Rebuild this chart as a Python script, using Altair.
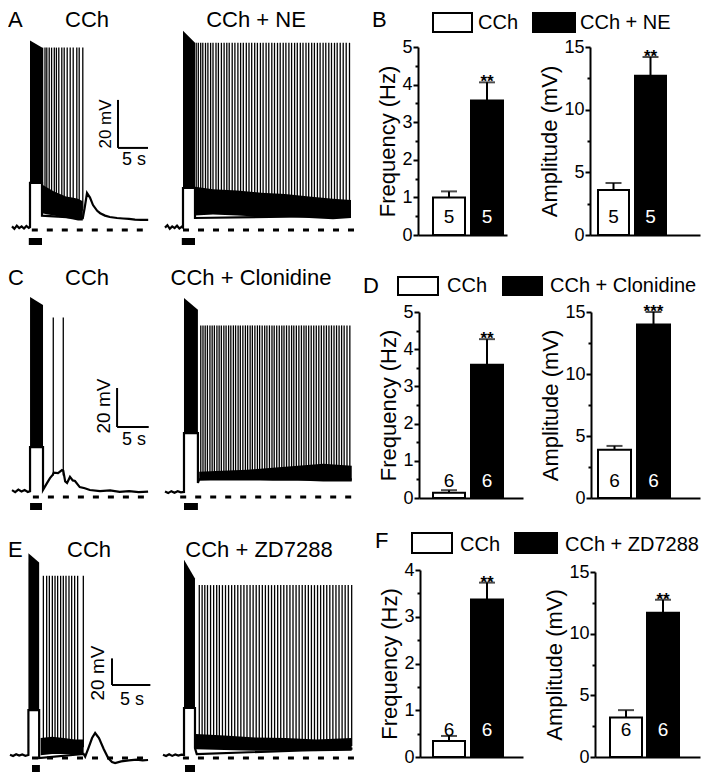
import altair as alt
import pandas as pd

FONT = "Liberation Sans"
M = 8            # page margin: reference pixel -> chart pixel
W, H = 694, 764  # chart size

# ======================= DATA =======================
letters = ["A", "B", "C", "D", "E", "F"]
titles_A = ["CCh", "CCh + NE"]
titles_C = ["CCh", "CCh + Clonidine"]
titles_E = ["CCh", "CCh + ZD7288"]
scale_labels = ["20 mV", "5 s"]
scale_sizes = [20, 5]          # mV, s

# ---- traces: time (s) vs membrane potential (mV above the dashed resting line)
# Row A, CCh
A1_line_t = [0, 0.4, 0.8, 1.2, 1.6, 2.0, 2.4, 2.8, 3.0, 3.0, 5.0, 5.0, 11.8, 12.1, 12.5, 13.0, 13.5, 14.2, 14.7, 15.5, 16.3, 17.5, 18.5, 19.5, 20.5, 21.5, 22.7]
A1_line_v = [1.5, 0.5, 1.8, 0.8, 1.5, 0.6, 1.7, 0.9, 1.2, 19.6, 19.6, 6.0, 5.0, 9.0, 15.4, 13.5, 10.4, 8.0, 7.0, 6.0, 5.4, 5.0, 4.8, 4.6, 4.3, 4.2, 4.2]
A1_block_t = [3.0, 5.0]
A1_block_top = [79, 76]
A1_block_bot = [19.6, 19.6]
A1_band_t = [5.0, 6.0, 7.0, 8.0, 9.0, 10.0, 11.0, 11.8]
A1_band_hi = [19.0, 17.5, 16.0, 15.0, 14.0, 13.5, 13.0, 12.0]
A1_band_lo = [7.0, 6.5, 6.0, 5.5, 5.0, 4.5, 4.0, 4.0]
A1_spike_t = [5.1, 5.5, 5.8, 6.2, 6.6, 7.05, 7.4, 7.8, 8.3, 8.7, 9.2, 9.7, 10.2, 10.8, 11.2, 11.8]
A1_peak, A1_base = 76, 8
A1_dash = [3.3, 23.0]
A1_stim = [2.8, 5.0]

# Row A, CCh + NE
A2_line_t = [0, 0.4, 0.8, 1.2, 1.6, 2.0, 2.4, 2.8, 3.0, 3.0, 5.0, 5.0, 31.0]
A2_line_v = [1.0, 2.0, 0.5, 1.5, 0.8, 1.8, 0.6, 1.4, 1.0, 17.5, 17.5, 5.0, 6.0]
A2_block_t = [3.0, 5.0]
A2_block_top = [83, 78]
A2_block_bot = [17.5, 17.5]
A2_band_t = [5.0, 8.0, 12.0, 16.0, 20.0, 24.0, 28.0, 31.0]
A2_band_hi = [18.0, 17.0, 16.5, 15.5, 15.0, 14.0, 13.0, 12.5]
A2_band_lo = [6.0, 6.5, 6.0, 5.5, 5.5, 5.0, 4.5, 5.0]
A2_spike_t = [5.2, 5.55, 5.95, 6.3, 6.75, 7.15, 7.6, 8.0, 8.5, 8.9, 9.4, 9.85, 10.3, 10.7, 11.2, 11.65,
              12.15, 12.6, 13.05, 13.55, 14.0, 14.45, 14.95, 15.4, 15.9, 16.35, 16.85, 17.3, 17.8, 18.25,
              18.75, 19.2, 19.7, 20.15, 20.65, 21.1, 21.6, 22.05, 22.55, 23.0, 23.5, 23.95, 24.45, 24.9,
              25.4, 25.85, 26.35, 26.8, 27.3, 27.75, 28.25, 28.7, 29.2, 29.7, 30.2, 30.75]
A2_peak, A2_base = 78, 10
A2_dash = [3.0, 31.7]
A2_stim = [2.8, 5.0]

# Row C, CCh
C1_line_t = [0, 0.5, 1.0, 1.5, 2.0, 2.5, 2.85, 2.85, 4.9, 4.9, 5.5, 6.0, 6.45, 6.6, 7.27, 7.9, 8.1, 8.4, 8.7,
             9.16, 9.6, 9.95, 10.7, 11.5, 12.3, 13.9, 15.5, 17.0, 18.5, 20.0, 21.5]
C1_line_v = [3.5, 2.5, 3.8, 2.8, 3.6, 2.6, 3.0, 25.6, 25.6, 3.6, 7.0, 9.7, 11.5, 12.5, 12.3, 13.8, 13.5, 8.0, 7.2,
             10.3, 8.5, 8.2, 5.1, 4.5, 3.6, 3.0, 3.4, 2.6, 3.0, 2.5, 2.8]
C1_block_t = [2.85, 4.9]
C1_block_top = [102.6, 98.5]
C1_block_bot = [25.6, 25.6]
C1_spike_t = [6.52, 8.1]
C1_peak, C1_base = 92, 11
C1_dash = [3.3, 21.5]
C1_stim = [2.85, 4.74]

# Row C, CCh + Clonidine
C2_line_t = [0, 0.5, 1.0, 1.5, 2.0, 2.5, 3.0, 3.0, 5.2, 5.2, 5.4, 29.5]
C2_line_v = [2.8, 2.0, 3.0, 2.2, 3.0, 2.4, 2.6, 32.8, 32.8, 7.2, 9.0, 9.0]
C2_block_t = [3.0, 5.2]
C2_block_top = [102, 96]
C2_block_bot = [32.8, 32.8]
C2_band_t = [5.4, 9.0, 13.0, 17.0, 21.0, 25.0, 29.5]
C2_band_hi = [13.0, 13.5, 14.0, 15.0, 16.0, 17.0, 16.0]
C2_band_lo = [8.5, 9.0, 9.0, 8.5, 8.5, 8.0, 8.0]
C2_spike_t = [5.65, 6.0, 6.35, 6.7, 7.1, 7.45, 7.8, 8.2, 8.55, 8.9, 9.3, 9.65, 10.05, 10.4, 10.8, 11.15,
              11.55, 11.9, 12.3, 12.7, 13.05, 13.45, 13.8, 14.2, 14.6, 14.95, 15.35, 15.75, 16.1, 16.5,
              16.9, 17.25, 17.65, 18.05, 18.45, 18.8, 19.2, 19.6, 20.0, 20.35, 20.75, 21.15, 21.55, 21.95,
              22.3, 22.7, 23.1, 23.5, 23.9, 24.3, 24.7, 25.1, 25.5, 25.9, 26.3, 26.7, 27.1, 27.5, 27.9,
              28.3, 28.75, 29.2]
C2_peak, C2_base = 88, 11
C2_dash = [2.4, 30.0]
C2_stim = [3.0, 5.2]

# Row E, CCh
E1_line_t = [0, 0.4, 0.8, 1.2, 1.6, 2.0, 2.4, 2.4, 3.8, 3.8, 9.6, 9.8, 10.2, 10.7, 11.1, 11.6, 12.2, 12.8,
             13.3, 13.7, 14.5, 15.5, 16.5, 17.3, 18.0]
E1_line_v = [2.5, 1.5, 2.8, 1.8, 2.6, 1.7, 2.3, 36.0, 36.0, 0.0, 3.0, 1.0, 7.0, 15.0, 18.8, 15.0, 7.0, 0.0,
             -3.0, -3.8, -2.5, -1.8, -1.3, -1.8, -1.5]
E1_block_t = [2.4, 3.8]
E1_block_top = [154, 147]
E1_block_bot = [36, 36]
E1_band_t = [4.0, 5.5, 7.0, 8.5, 9.6]
E1_band_hi = [15.0, 16.0, 15.0, 14.0, 14.0]
E1_band_lo = [2.0, 3.0, 3.0, 3.0, 3.0]
E1_spike_t = [4.35, 4.78, 5.13, 5.52, 5.87, 6.21, 6.6, 6.95, 7.3, 7.69, 8.04, 8.43, 8.82, 9.56]
E1_peak, E1_base = 137, 8
E1_dash = [2.87, 18.0]
E1_stim = [2.87, 3.9]

# Row E, CCh + ZD7288
E2_line_t = [0, 0.4, 0.8, 1.2, 1.6, 2.0, 2.4, 2.74, 2.74, 4.17, 4.17, 4.4, 24.7]
E2_line_v = [2.5, 1.5, 2.8, 1.6, 2.7, 1.8, 2.5, 2.3, 37.6, 37.6, 7.5, 3.0, 7.0]
E2_block_t = [2.74, 4.17]
E2_block_top = [149, 135]
E2_block_bot = [37.6, 37.6]
E2_band_t = [4.3, 8.0, 12.0, 16.0, 20.0, 24.6]
E2_band_hi = [18.0, 17.0, 15.5, 15.0, 14.0, 15.0]
E2_band_lo = [6.5, 6.0, 5.5, 5.5, 5.0, 5.5]
E2_spike_t = [4.73, 5.1, 5.45, 5.8, 6.2, 6.6, 7.0, 7.35, 7.75, 8.15, 8.55, 8.95, 9.35, 9.75, 10.15, 10.55,
              10.95, 11.35, 11.75, 12.15, 12.55, 12.95, 13.35, 13.75, 14.15, 14.55, 14.95, 15.35, 15.75,
              16.15, 16.55, 16.95, 17.35, 17.75, 18.15, 18.55, 18.95, 19.35, 19.75, 20.15, 20.55, 20.95,
              21.35, 21.75, 22.15, 22.55, 22.95, 23.35, 23.75, 24.15, 24.6]
E2_peak, E2_base = 130, 9
E2_dash = [2.6, 25.0]
E2_stim = [2.87, 4.17]

# ---- bar charts (mean, SEM, n, significance)
freq_title = "Frequency (Hz)"
amp_title = "Amplitude (mV)"
B_freq_mean = [1.0, 3.58];  B_freq_sem = [0.16, 0.48];  B_n = [5, 5]; B_freq_sig = "**"
B_amp_mean = [3.6, 12.7];   B_amp_sem = [0.55, 1.5];    B_amp_sig = "**"
D_freq_mean = [0.14, 3.58]; D_freq_sem = [0.07, 0.69];  D_n = [6, 6]; D_freq_sig = "**"
D_amp_mean = [3.9, 14.0];   D_amp_sem = [0.3, 1.0];     D_amp_sig = "***"
F_freq_mean = [0.34, 3.37]; F_freq_sem = [0.11, 0.36];  F_n = [6, 6]; F_freq_sig = "**"
F_amp_mean = [3.2, 11.7];   F_amp_sem = [0.6, 1.05];    F_amp_sig = "**"

# ======================= LAYOUT (reference pixels) =======================
LAY = {
    "A1": dict(x0=12, yd=230, pps=6.0, ppm=2.4, stim=(238, 245)),
    "A2": dict(x0=165, yd=230, pps=6.0, ppm=2.4, stim=(238, 245)),
    "C1": dict(x0=12, yd=497, pps=6.33, ppm=1.95, stim=(503, 510)),
    "C2": dict(x0=165, yd=497, pps=6.33, ppm=1.95, stim=(503, 510)),
    "E1": dict(x0=10, yd=758, pps=7.67, ppm=1.33, stim=(765, 774)),
    "E2": dict(x0=163, yd=758, pps=7.67, ppm=1.33, stim=(765, 774)),
}
# bar panels: axis x, axis end, first bar left, bar width, gap, y of 0, y of max, max, n-label lift
BLAY = {
    "Bf": (418, 507, 433, 32, 6, 235, 47, 5, 12),
    "Ba": (590, 700, 598, 31, 6, 235, 47, 15, 12),
    "Df": (419, 523, 433, 32, 6, 498, 312, 5, 11),
    "Da": (591, 700, 598, 33, 6, 498, 312, 15, 11),
    "Ff": (420, 523, 433, 32, 6, 757, 570, 4, 21),
    "Fa": (595, 700, 610, 32, 5, 757, 572, 15, 21),
}


def text_mark(label, x, y, size, align="center", baseline="alphabetic", angle=0,
              weight="normal", color="black"):
    df = pd.DataFrame({"label": [label]})
    kw = dict(fontSize=size, font=FONT, align=align, baseline=baseline,
              fontWeight=weight, color=color)
    if angle:
        kw["angle"] = angle
    return alt.Chart(df).mark_text(**kw).encode(
        x=alt.value(x - M), y=alt.value(y - M), text="label:N")


def trace(key, line_t, line_v, block_t, block_top, block_bot, band, spike_t, peak, base,
          dash, stim, scalebar=None):
    lay = LAY[key]
    xs = alt.Scale(domain=[0, 10], range=[lay["x0"] - M, lay["x0"] - M + 10 * lay["pps"]],
                   nice=False, zero=False)
    ys = alt.Scale(domain=[0, 10], range=[lay["yd"] - M, lay["yd"] - M - 10 * lay["ppm"]],
                   nice=False, zero=False)

    def X(f):
        return alt.X(f, type="quantitative", scale=xs, axis=None)

    def Y(f):
        return alt.Y(f, type="quantitative", scale=ys, axis=None)

    layers = []
    dash_df = pd.DataFrame({"t0": [dash[0]], "t1": [dash[1]], "v": [0]})
    layers.append(alt.Chart(dash_df).mark_rule(strokeDash=[6, 9], strokeWidth=3, color="black")
                  .encode(x=X("t0"), x2="t1", y=Y("v")))
    stim_df = pd.DataFrame({"t0": [stim[0]], "t1": [stim[1]]})
    layers.append(alt.Chart(stim_df).mark_rect(color="black")
                  .encode(x=X("t0"), x2="t1", y=alt.value(lay["stim"][0] - M),
                          y2=alt.value(lay["stim"][1] - M)))
    if band is not None:
        band_df = pd.DataFrame({"t": band[0], "lo": band[1], "hi": band[2]})
        layers.append(alt.Chart(band_df).mark_area(color="black")
                      .encode(x=X("t"), y=Y("lo"), y2="hi"))
    block_df = pd.DataFrame({"t": block_t, "top": block_top, "bot": block_bot})
    layers.append(alt.Chart(block_df).mark_area(color="black")
                  .encode(x=X("t"), y=Y("bot"), y2="top"))
    spike_df = pd.DataFrame({"t": spike_t, "base": [base] * len(spike_t),
                             "peak": [peak] * len(spike_t)})
    layers.append(alt.Chart(spike_df).mark_rule(strokeWidth=1.3, color="black")
                  .encode(x=X("t"), y=Y("base"), y2="peak"))
    line_df = pd.DataFrame({"t": line_t, "v": line_v, "i": list(range(len(line_t)))})
    layers.append(alt.Chart(line_df).mark_line(strokeWidth=2.2, color="black")
                  .encode(x=X("t"), y=Y("v"), order="i:Q"))
    if scalebar is not None:
        t_a, v_a = scalebar
        sb = pd.DataFrame({"t": [t_a], "t2": [t_a + scale_sizes[1]],
                           "v": [v_a], "v2": [v_a + scale_sizes[0]]})
        layers.append(alt.Chart(sb).mark_rule(strokeWidth=2, color="black")
                      .encode(x=X("t"), y=Y("v"), y2="v2"))
        layers.append(alt.Chart(sb).mark_rule(strokeWidth=2, color="black")
                      .encode(x=X("t"), x2="t2", y=Y("v")))
    return alt.layer(*layers)


def bars(key, groups, mean, sem, n, sig, title, major, minor):
    ax, end, b1, bw, gap, y0, ytop, ymax, nlift = BLAY[key]
    upper = [round(m + s, 3) for m, s in zip(mean, sem)]
    df = pd.DataFrame({"group": groups, "mean": mean, "upper": upper,
                       "n": [str(k) for k in n], "sig": ["", sig]})
    step = bw + gap
    span = end - ax
    pi = gap / step
    po = (span / step - (2 - pi)) / 2
    al = (b1 - ax) / (span - (2 * bw + gap))
    xs = alt.Scale(domain=groups, range=[ax - M, end - M], paddingInner=pi,
                   paddingOuter=po, align=al)
    ys = alt.Scale(domain=[0, ymax], range=[y0 - M, ytop - M], nice=False)
    ticks = [round(i * minor, 3) for i in range(int(round(ymax / minor)) + 1)]
    test = f"datum.value % {major} == 0"
    yaxis = alt.Axis(orient="left", offset=-(ax - M), values=ticks,
                     labelExpr=f"{test} ? format(datum.value, 'd') : ''",
                     tickSize={"condition": {"test": test, "value": 5}, "value": 3},
                     domainWidth=2, tickWidth=2, domainColor="black", tickColor="black",
                     labelColor="black", labelFont=FONT, labelFontSize=18, labelPadding=1,
                     labelOverlap=False, labelFlush=False, grid=False,
                     title=title, titleFont=FONT, titleFontSize=22, titleFontWeight="normal",
                     titleColor="black", titlePadding=2)
    xaxis = alt.Axis(orient="bottom", offset=(y0 - M) - H, labels=False, ticks=False,
                     title="", domainWidth=2, domainColor="black", grid=False)
    X = alt.X("group:N", scale=xs, axis=xaxis)
    is_first = f"datum.group == '{groups[0]}'"
    base = alt.Chart(df)
    barl = base.mark_bar(stroke="black", strokeWidth=2).encode(
        x=X, y=alt.Y("mean:Q", scale=ys, axis=yaxis),
        fill=alt.condition(is_first, alt.value("white"), alt.value("black")))
    err = base.mark_rule(strokeWidth=2, color="black").encode(
        x=X, y=alt.Y("mean:Q", scale=ys, axis=yaxis), y2="upper")
    cap = base.mark_tick(thickness=2, size=16, color="black").encode(
        x=X, y=alt.Y("upper:Q", scale=ys, axis=yaxis))
    ntext = base.mark_text(font=FONT, fontSize=19, baseline="alphabetic", dy=-nlift).encode(
        x=X, y=alt.datum(0),
        text="n:N",
        color=alt.condition(is_first, alt.value("black"), alt.value("white")))
    stext = base.mark_text(font=FONT, fontSize=17, fontWeight="bold", baseline="alphabetic",
                           dy=5, color="black").encode(
        x=X, y=alt.Y("upper:Q", scale=ys, axis=yaxis), text="sig:N")
    return alt.layer(barl, err, cap, ntext, stext)


def legend(groups, y0, y1, box1, tx1, box2, tx2, baseline_y):
    parts = []
    for g, box, tx, fill in [(groups[0], box1, tx1, "white"), (groups[1], box2, tx2, "black")]:
        df = pd.DataFrame({"label": [g]})
        parts.append(alt.Chart(df).mark_rect(fill=fill, stroke="black", strokeWidth=2).encode(
            x=alt.value(box[0] - M), x2=alt.value(box[1] - M),
            y=alt.value(y0 - M), y2=alt.value(y1 - M)))
        parts.append(text_mark(g, tx, baseline_y, 20, align="left"))
    return parts


panels = []
# ---------------- Row A / B ----------------
panels.append(trace("A1", A1_line_t, A1_line_v, A1_block_t, A1_block_top, A1_block_bot,
                    (A1_band_t, A1_band_lo, A1_band_hi), A1_spike_t, A1_peak, A1_base,
                    A1_dash, A1_stim, scalebar=(17.67, 34.2)))
panels.append(trace("A2", A2_line_t, A2_line_v, A2_block_t, A2_block_top, A2_block_bot,
                    (A2_band_t, A2_band_lo, A2_band_hi), A2_spike_t, A2_peak, A2_base,
                    A2_dash, A2_stim))
panels.append(bars("Bf", titles_A, B_freq_mean, B_freq_sem, B_n, B_freq_sig, freq_title, 1, 0.5))
panels.append(bars("Ba", titles_A, B_amp_mean, B_amp_sem, B_n, B_amp_sig, amp_title, 5, 2.5))
panels += legend(titles_A, 13, 32, (433, 472), 478, (533, 575), 580, 29)
panels.append(text_mark(letters[0], 8, 27, 22, align="left"))
panels.append(text_mark(letters[1], 372, 27, 22, align="left"))
panels.append(text_mark(titles_A[0], 87, 27, 22))
panels.append(text_mark(titles_A[1], 256, 27, 22))
panels.append(text_mark(scale_labels[0], 106, 124, 17, baseline="middle", angle=270))
panels.append(text_mark(scale_labels[1], 134, 160, 18, baseline="middle"))

# ---------------- Row C / D ----------------
panels.append(trace("C1", C1_line_t, C1_line_v, C1_block_t, C1_block_top, C1_block_bot,
                    None, C1_spike_t, C1_peak, C1_base, C1_dash, C1_stim,
                    scalebar=(16.6, 35.9)))
panels.append(trace("C2", C2_line_t, C2_line_v, C2_block_t, C2_block_top, C2_block_bot,
                    (C2_band_t, C2_band_lo, C2_band_hi), C2_spike_t, C2_peak, C2_base,
                    C2_dash, C2_stim))
panels.append(bars("Df", titles_C, D_freq_mean, D_freq_sem, D_n, D_freq_sig, freq_title, 1, 0.5))
panels.append(bars("Da", titles_C, D_amp_mean, D_amp_sem, D_n, D_amp_sig, amp_title, 5, 2.5))
panels += legend(titles_C, 277, 295, (398, 438), 447, (503, 542), 550, 292)
panels.append(text_mark(letters[2], 8, 285, 22, align="left"))
panels.append(text_mark(letters[3], 363, 293, 22, align="left"))
panels.append(text_mark(titles_C[0], 87, 285, 22))
panels.append(text_mark(titles_C[1], 251, 285, 22))
panels.append(text_mark(scale_labels[0], 104, 406, 19, baseline="middle", angle=270))
panels.append(text_mark(scale_labels[1], 134, 440, 18, baseline="middle"))

# ---------------- Row E / F ----------------
panels.append(trace("E1", E1_line_t, E1_line_v, E1_block_t, E1_block_top, E1_block_bot,
                    (E1_band_t, E1_band_lo, E1_band_hi), E1_spike_t, E1_peak, E1_base,
                    E1_dash, E1_stim, scalebar=(13.3, 54.9)))
panels.append(trace("E2", E2_line_t, E2_line_v, E2_block_t, E2_block_top, E2_block_bot,
                    (E2_band_t, E2_band_lo, E2_band_hi), E2_spike_t, E2_peak, E2_base,
                    E2_dash, E2_stim))
panels.append(bars("Ff", titles_E, F_freq_mean, F_freq_sem, F_n, F_freq_sig, freq_title, 1, 0.5))
panels.append(bars("Fa", titles_E, F_amp_mean, F_amp_sem, F_n, F_amp_sig, amp_title, 5, 2.5))
panels += legend(titles_E, 533, 553, (412, 452), 460, (515, 557), 565, 551)
panels.append(text_mark(letters[4], 8, 557, 22, align="left"))
panels.append(text_mark(letters[5], 375, 548, 22, align="left"))
panels.append(text_mark(titles_E[0], 89, 557, 22))
panels.append(text_mark(titles_E[1], 259, 557, 22))
panels.append(text_mark(scale_labels[0], 98, 673, 19, baseline="middle", angle=270))
panels.append(text_mark(scale_labels[1], 132, 700, 18, baseline="middle"))

chart = (
    alt.layer(*panels)
    .resolve_scale(x="independent", y="independent")
    .resolve_axis(x="independent", y="independent")
    .properties(width=W, height=H, padding=0, background="white",
                autosize=alt.AutoSizeParams(type="none"))
    .configure_view(stroke=None)
)

chart.save("out.html", embed_options={"renderer": "svg", "actions": False})
